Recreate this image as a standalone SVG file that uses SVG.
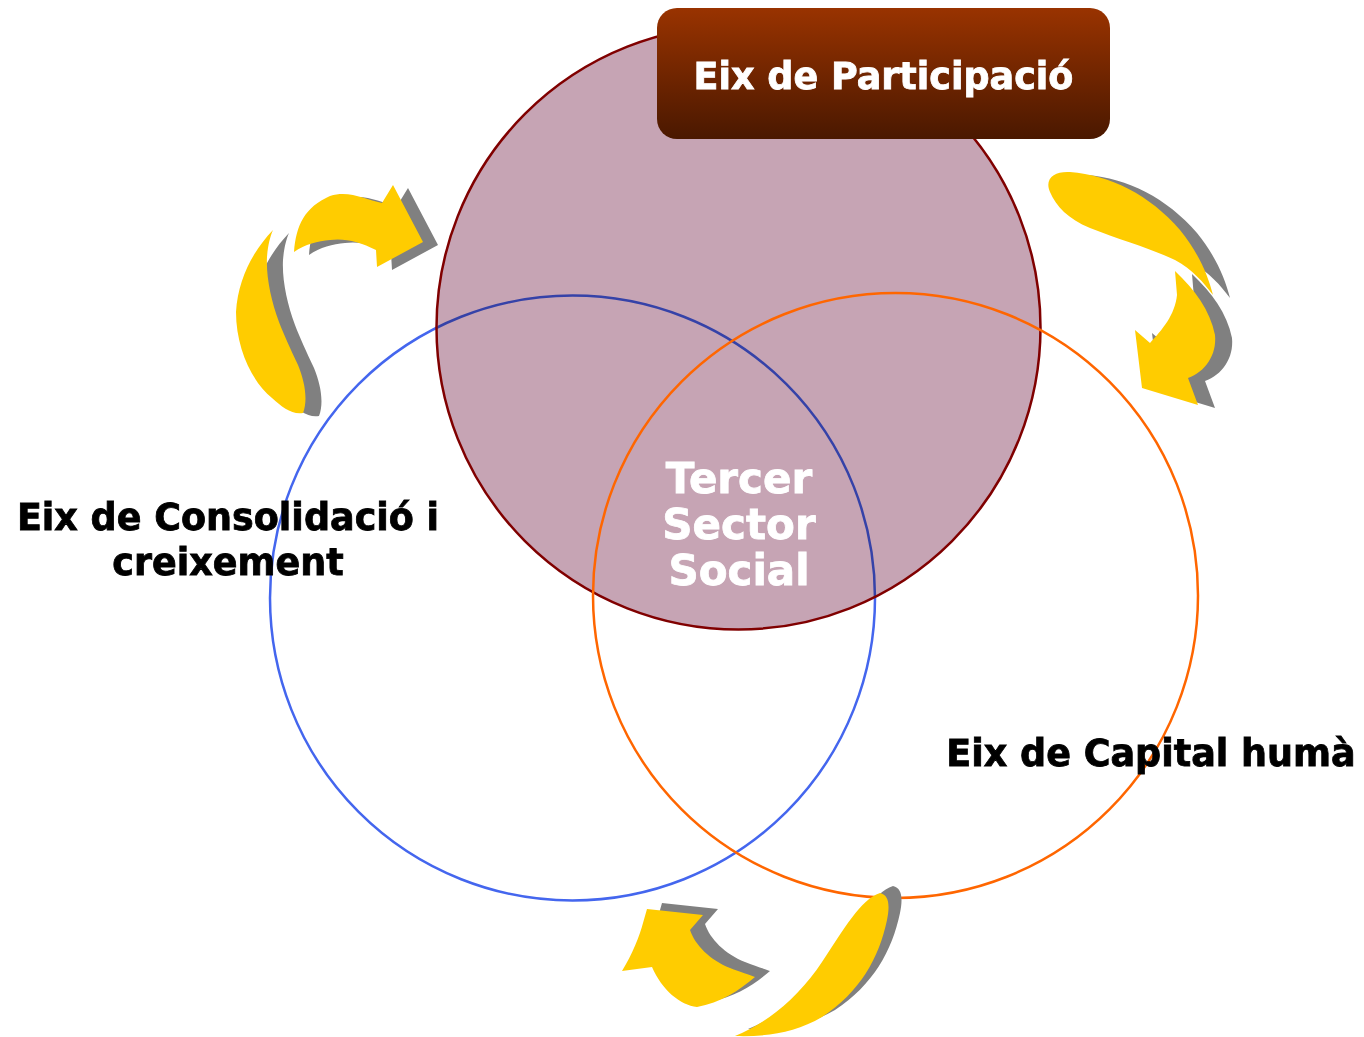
<svg xmlns="http://www.w3.org/2000/svg" width="1364" height="1037" viewBox="0 0 1364 1037">
<defs>
<linearGradient id="boxGrad" x1="0" y1="0" x2="0" y2="1">
<stop offset="0" stop-color="#993300"/>
<stop offset="1" stop-color="#4A1800"/>
</linearGradient>
<style>
.lbl{font-family:"DejaVu Sans","Liberation Sans",sans-serif;font-weight:bold;font-size:36.5px;fill:#000;stroke:#000;stroke-width:0.8px}
.wht{fill:#fff;stroke:#fff}
.arrow{fill:#FFCC00}
.shadow{fill:#808080}
</style>
</defs>
<rect width="1364" height="1037" fill="#fff"/>
<g id="circle-participacio-fill">
<circle cx="738.5" cy="327.5" r="302" fill="#C6A4B4"/>
</g>
<g id="circle-consolidacio">
<circle cx="572.5" cy="598" r="302.5" fill="none" stroke="#4466EE" stroke-width="2.5" style="mix-blend-mode:multiply"/>
</g>
<g id="circle-participacio-stroke">
<circle cx="738.5" cy="327.5" r="302" fill="none" stroke="#800000" stroke-width="2.5"/>
</g>
<g id="circle-capital">
<circle cx="895.5" cy="595.5" r="302.5" fill="none" stroke="#FF6600" stroke-width="2.5"/>
</g>
<g id="node-center">
<text class="lbl wht" style="font-size:42px" x="739" y="493" text-anchor="middle">Tercer</text>
<text class="lbl wht" style="font-size:42px" x="739" y="539" text-anchor="middle">Sector</text>
<text class="lbl wht" style="font-size:42px" x="739" y="585" text-anchor="middle">Social</text>
</g>
<g id="node-participacio">
<rect x="657" y="8" width="453" height="131" rx="20" fill="url(#boxGrad)"/>
<text class="lbl wht" x="883.5" y="89" text-anchor="middle">Eix de Participació</text>
</g>
<g id="node-consolidacio">
<text class="lbl" x="228" y="530" text-anchor="middle">Eix de Consolidació i</text>
<text class="lbl" x="228" y="575" text-anchor="middle">creixement</text>
</g>
<g id="node-capital">
<text class="lbl" x="1151" y="766" text-anchor="middle">Eix de Capital humà</text>
</g>
<g id="connectors">
<g transform="translate(15,3)" class="shadow">
<path d="M294,252 C296,225 305,207 330,196 C350,190 365,200 382,203 L393,185 L423,242 L377,267 L376,250 C360,242 345,238 330,240 C318,241 305,244 294,252 Z"/>
</g>
<path class="arrow" d="M294,252 C296,225 305,207 330,196 C350,190 365,200 382,203 L393,185 L423,242 L377,267 L376,250 C360,242 345,238 330,240 C318,241 305,244 294,252 Z"/>
<g transform="translate(16,3)" class="shadow">
<path d="M273,230 C252,252 238,280 236,312 C236,348 252,382 272,398 C282,407 292,415 303,413 C308,400 305,382 298,365 C290,348 284,335 279,322 C271,300 266,277 267,257 C268,245 270,237 273,230 Z"/>
</g>
<path class="arrow" d="M273,230 C252,252 238,280 236,312 C236,348 252,382 272,398 C282,407 292,415 303,413 C308,400 305,382 298,365 C290,348 284,335 279,322 C271,300 266,277 267,257 C268,245 270,237 273,230 Z"/>
<g transform="translate(17,3)" class="shadow">
<path d="M1050,192 C1044,178 1055,171 1070,172 C1110,175 1150,195 1180,230 C1198,252 1208,275 1213,295 C1203,282 1193,270 1175,260 C1150,248 1120,240 1090,228 C1068,219 1056,206 1050,192 Z"/>
<path d="M1175,271 C1195,290 1210,310 1215,335 C1217,355 1205,372 1188,378 L1198,405 L1142,388 L1135,330 L1150,343 C1162,330 1175,315 1177,295 Z"/>
</g>
<path class="arrow" d="M1050,192 C1044,178 1055,171 1070,172 C1110,175 1150,195 1180,230 C1198,252 1208,275 1213,295 C1203,282 1193,270 1175,260 C1150,248 1120,240 1090,228 C1068,219 1056,206 1050,192 Z"/>
<path class="arrow" d="M1175,271 C1195,290 1210,310 1215,335 C1217,355 1205,372 1188,378 L1198,405 L1142,388 L1135,330 L1150,343 C1162,330 1175,315 1177,295 Z"/>
<g transform="translate(15,-6)" class="shadow">
<path d="M647,909 L703,915 L690,930 C695,945 710,960 730,968 C740,972 750,975 755,977 C740,990 720,1003 697,1007 C680,1005 662,990 652,967 L622,971 C632,955 640,935 643,923 Z"/>
</g>
<path class="arrow" d="M647,909 L703,915 L690,930 C695,945 710,960 730,968 C740,972 750,975 755,977 C740,990 720,1003 697,1007 C680,1005 662,990 652,967 L622,971 C632,955 640,935 643,923 Z"/>
<g transform="translate(13,-7)" class="shadow">
<path d="M735,1036 C770,1022 800,995 822,962 C845,928 860,900 880,893 C889,895 890,905 887,920 C879,958 860,992 822,1017 C795,1033 765,1037 735,1036 Z"/>
</g>
<path class="arrow" d="M735,1036 C770,1022 800,995 822,962 C845,928 860,900 880,893 C889,895 890,905 887,920 C879,958 860,992 822,1017 C795,1033 765,1037 735,1036 Z"/>
</g>
</svg>
